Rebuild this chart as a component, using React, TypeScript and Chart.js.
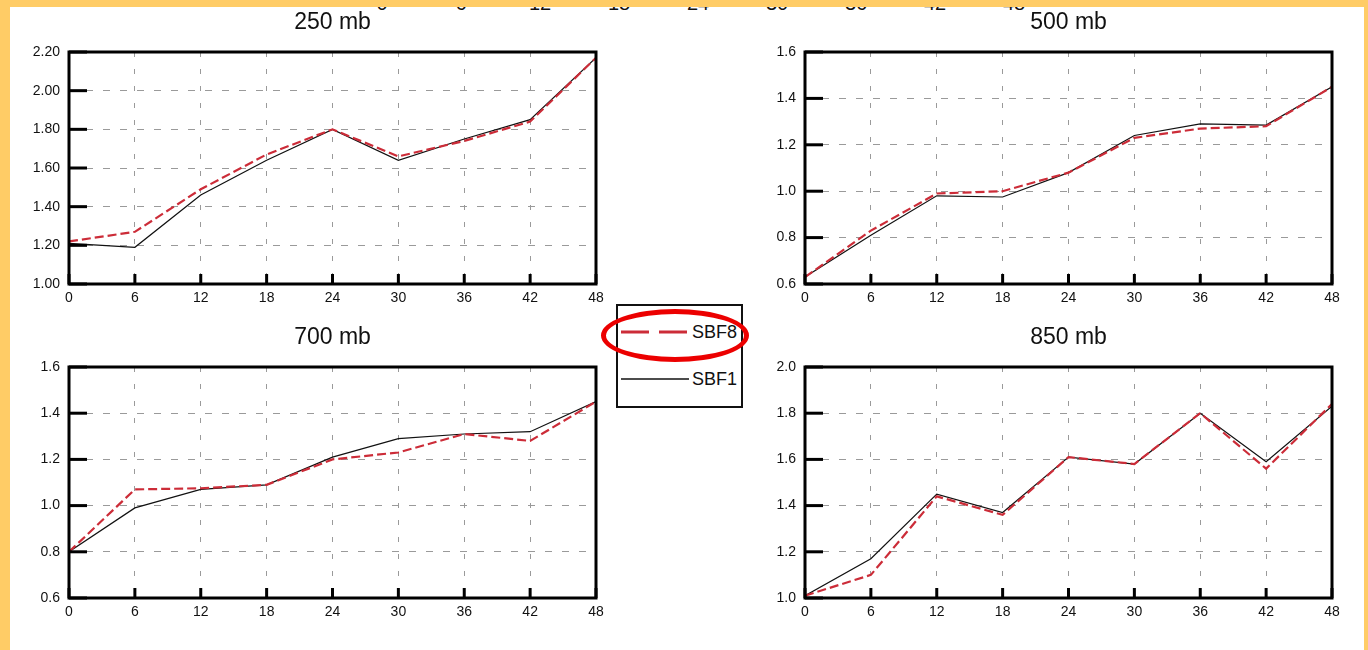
import React, { useEffect, useRef } from 'react';
import { Chart, registerables } from 'chart.js';

Chart.register(...registerables);

// ---- data ----
const hours = [0, 6, 12, 18, 24, 30, 36, 42, 48];

const sbf8_250 = [1.22, 1.27, 1.49, 1.67, 1.8, 1.66, 1.74, 1.84, 2.17];
const sbf1_250 = [1.21, 1.19, 1.46, 1.64, 1.8, 1.64, 1.75, 1.85, 2.17];

const sbf8_500 = [0.63, 0.83, 0.99, 1.0, 1.08, 1.23, 1.27, 1.28, 1.45];
const sbf1_500 = [0.63, 0.81, 0.98, 0.975, 1.08, 1.24, 1.29, 1.285, 1.45];

const sbf8_700 = [0.8, 1.07, 1.075, 1.09, 1.2, 1.23, 1.31, 1.28, 1.45];
const sbf1_700 = [0.8, 0.99, 1.07, 1.09, 1.21, 1.29, 1.31, 1.32, 1.45];

const sbf8_850 = [1.01, 1.1, 1.44, 1.36, 1.61, 1.58, 1.8, 1.56, 1.84];
const sbf1_850 = [1.01, 1.17, 1.45, 1.37, 1.61, 1.58, 1.8, 1.59, 1.83];

const seriesNames = ['SBF8', 'SBF1'];
const panelTitles = ['250 mb', '500 mb', '700 mb', '850 mb'];

// ---- styles ----
const RED = '#cc2c38';
const BLACK = '#111111';
const GRID = '#9a9a9a';
const FONT = '"Liberation Sans", Arial, Helvetica, sans-serif';
const ORANGE = '#ffcc66';

type PanelProps = {
  title: string;
  left: number;
  top: number;
  width: number;
  height: number;
  pad: { top: number; right: number; bottom: number };
  sbf8: number[];
  sbf1: number[];
  yMin: number;
  yMax: number;
  yStep: number;
  decimals: number;
};

function Panel(p: PanelProps) {
  const ref = useRef<HTMLCanvasElement | null>(null);
  useEffect(() => {
    if (!ref.current) return;
    const framePlugin = {
      id: 'frame',
      afterDraw(chart: any) {
        const { ctx, chartArea: a, scales } = chart;
        const x = scales.x;
        const y = scales.y;
        ctx.save();
        ctx.strokeStyle = '#000';
        ctx.lineWidth = 3;
        ctx.setLineDash([]);
        ctx.strokeRect(a.left, a.top, a.right - a.left, a.bottom - a.top);
        y.ticks.forEach((t: any) => {
          const py = y.getPixelForValue(t.value);
          ctx.beginPath();
          ctx.moveTo(a.left, py);
          ctx.lineTo(a.left + 18, py);
          ctx.stroke();
        });
        x.ticks.forEach((t: any) => {
          const px = x.getPixelForValue(t.value);
          ctx.beginPath();
          ctx.moveTo(px, a.bottom);
          ctx.lineTo(px, a.bottom - 10);
          ctx.stroke();
        });
        ctx.fillStyle = BLACK;
        ctx.font = `23px ${FONT}`;
        ctx.textAlign = 'center';
        ctx.textBaseline = 'middle';
        ctx.fillText(p.title, (a.left + a.right) / 2, a.top - 29);
        ctx.restore();
      },
    };
    const tickFont = { family: FONT, size: 14 };
    const chart = new Chart(ref.current, {
      type: 'line',
      data: {
        datasets: [
          {
            label: seriesNames[0],
            data: hours.map((h, i) => ({ x: h, y: p.sbf8[i] })),
            borderColor: RED,
            borderWidth: 2.2,
            borderDash: [9, 4],
            pointRadius: 0,
            tension: 0,
            fill: false,
          },
          {
            label: seriesNames[1],
            data: hours.map((h, i) => ({ x: h, y: p.sbf1[i] })),
            borderColor: BLACK,
            borderWidth: 1.2,
            pointRadius: 0,
            tension: 0,
            fill: false,
          },
        ],
      },
      options: {
        animation: false,
        responsive: false,
        maintainAspectRatio: false,
        layout: { padding: { left: 0, top: p.pad.top, right: p.pad.right, bottom: p.pad.bottom } },
        plugins: {
          legend: { display: false },
          tooltip: { enabled: false },
          title: { display: false },
        },
        scales: {
          x: {
            type: 'linear',
            min: 0,
            max: 48,
            afterBuildTicks: (s: any) => {
              s.ticks = hours.map((v) => ({ value: v }));
            },
            ticks: {
              autoSkip: false,
              maxRotation: 0,
              padding: 6,
              color: BLACK,
              font: tickFont,
            },
            grid: { color: GRID, lineWidth: 1, drawTicks: false },
            border: { display: false, dash: [5, 12] },
            afterFit: (s: any) => {
              s.height = 30;
            },
          },
          y: {
            type: 'linear',
            min: p.yMin,
            max: p.yMax,
            ticks: {
              stepSize: p.yStep,
              padding: 9,
              color: BLACK,
              font: tickFont,
              callback: (v: any) => Number(v).toFixed(p.decimals),
            },
            grid: { color: GRID, lineWidth: 1, drawTicks: false },
            border: { display: false, dash: [7, 10] },
            afterFit: (s: any) => {
              s.width = 69;
            },
          },
        },
      } as any,
      plugins: [framePlugin],
    });
    return () => chart.destroy();
  }, []);
  return (
    <canvas
      ref={ref}
      width={p.width}
      height={p.height}
      style={{ position: 'absolute', left: p.left, top: p.top, width: p.width, height: p.height }}
    />
  );
}

function Legend() {
  return (
    <div
      style={{
        position: 'absolute',
        left: 616,
        top: 304,
        width: 127,
        height: 104,
        boxSizing: 'border-box',
        border: '2px solid #111',
        background: '#fff',
        zIndex: 5,
      }}
    >
      <svg width={123} height={100} style={{ position: 'absolute', left: 0, top: 0 }}>
        <line x1={3} y1={26} x2={71} y2={26} stroke={RED} strokeWidth={3} strokeDasharray="28 10" />
        <text x={74} y={26} fontFamily={FONT} fontSize={18} fill={BLACK} dominantBaseline="central">
          {seriesNames[0]}
        </text>
        <line x1={3} y1={73} x2={71} y2={73} stroke={BLACK} strokeWidth={1.3} />
        <text x={74} y={73} fontFamily={FONT} fontSize={18} fill={BLACK} dominantBaseline="central">
          {seriesNames[1]}
        </text>
      </svg>
    </div>
  );
}

export default function App() {
  return (
    <div
      style={{
        position: 'absolute',
        left: 0,
        top: 0,
        width: 1368,
        height: 650,
        background: '#fff',
        overflow: 'hidden',
        fontFamily: FONT,
      }}
    >
      {/* remnant labels of an axis above, mostly hidden under the border */}
      {hours.map((h, i) => (
        <div
          key={h}
          style={{
            position: 'absolute',
            left: 382 + 79 * i - 20,
            width: 40,
            top: -7,
            textAlign: 'center',
            fontSize: 20,
            lineHeight: '20px',
            color: BLACK,
          }}
        >
          {h}
        </div>
      ))}
      <Panel
        title={panelTitles[0]}
        left={0}
        top={0}
        width={620}
        height={320}
        pad={{ top: 52, right: 24, bottom: 6 }}
        sbf8={sbf8_250}
        sbf1={sbf1_250}
        yMin={1.0}
        yMax={2.2}
        yStep={0.2}
        decimals={2}
      />
      <Panel
        title={panelTitles[1]}
        left={736}
        top={0}
        width={620}
        height={320}
        pad={{ top: 52, right: 24, bottom: 6 }}
        sbf8={sbf8_500}
        sbf1={sbf1_500}
        yMin={0.6}
        yMax={1.6}
        yStep={0.2}
        decimals={1}
      />
      <Panel
        title={panelTitles[2]}
        left={0}
        top={320}
        width={620}
        height={330}
        pad={{ top: 47, right: 24, bottom: 22 }}
        sbf8={sbf8_700}
        sbf1={sbf1_700}
        yMin={0.6}
        yMax={1.6}
        yStep={0.2}
        decimals={1}
      />
      <Panel
        title={panelTitles[3]}
        left={736}
        top={320}
        width={620}
        height={330}
        pad={{ top: 47, right: 24, bottom: 22 }}
        sbf8={sbf8_850}
        sbf1={sbf1_850}
        yMin={1.0}
        yMax={2.0}
        yStep={0.2}
        decimals={1}
      />
      <Legend />
      {/* highlight ellipse around SBF8 legend entry */}
      <div
        style={{
          position: 'absolute',
          left: 601,
          top: 309,
          width: 148,
          height: 53,
          boxSizing: 'border-box',
          border: '5px solid #ec0000',
          borderRadius: '50%',
          zIndex: 6,
        }}
      />
      {/* orange page border */}
      <div style={{ position: 'absolute', left: 0, top: 0, width: 1368, height: 7, background: ORANGE, zIndex: 10 }} />
      <div style={{ position: 'absolute', left: 0, top: 0, width: 10, height: 650, background: ORANGE, zIndex: 10 }} />
      <div style={{ position: 'absolute', left: 1364, top: 0, width: 4, height: 650, background: ORANGE, zIndex: 10 }} />
    </div>
  );
}
